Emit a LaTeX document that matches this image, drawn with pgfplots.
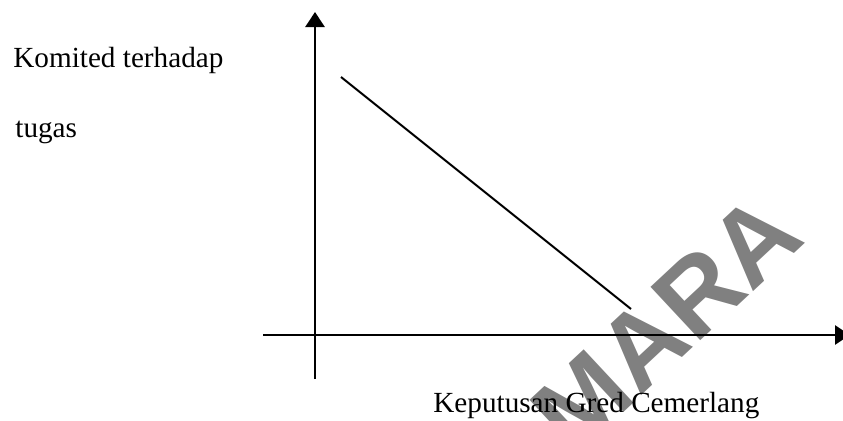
\documentclass[border=0pt]{standalone}
\usepackage{pgfplots}
\pgfplotsset{compat=1.18}
\usepackage{fontspec}
\setmainfont{Liberation Serif}
\newfontfamily\wmfont{Liberation Sans Bold}
\usetikzlibrary{arrows.meta}

\definecolor{wmgray}{HTML}{808080}

\begin{document}
\begin{tikzpicture}
% pixel grid: 1px = 0.5pt, y counted from the bottom
\begin{axis}[
    width=421.5pt, height=210pt, scale only axis,
    xmin=0, xmax=843, ymin=0, ymax=420,
    axis lines=none, clip=false,
]
\coordinate (bl) at (axis cs:0,0);
\coordinate (tr) at (axis cs:843,420);

% watermark
\node[text=wmgray, font=\wmfont\fontsize{53}{53}\selectfont, rotate=43]
    at (axis cs:666,97) {MARA};

% axes with arrows
\draw[line width=1.4pt, -{Triangle[width=9.5pt,length=7.5pt]}]
    (axis cs:315,41) -- (axis cs:315,408);
\draw[line width=1.3pt, -{Triangle[width=9.5pt,length=7.5pt]}]
    (axis cs:263,85) -- (axis cs:850,85);

% the relation
\addplot[black, line width=1pt] coordinates {(341,343) (631,111)};

% labels
\node[anchor=base west, font=\fontsize{14.6}{16}\selectfont, inner sep=0pt]
    at (axis cs:13,353) {Komited terhadap};
\node[anchor=base west, font=\fontsize{14.6}{16}\selectfont, inner sep=0pt]
    at (axis cs:15,283) {tugas};
\node[anchor=base west, font=\fontsize{14.6}{16}\selectfont, inner sep=0pt]
    at (axis cs:433,8) {Keputusan Gred Cemerlang};
\end{axis}
\pgfresetboundingbox
\path[use as bounding box] (bl) rectangle (tr);
\end{tikzpicture}
\end{document}
